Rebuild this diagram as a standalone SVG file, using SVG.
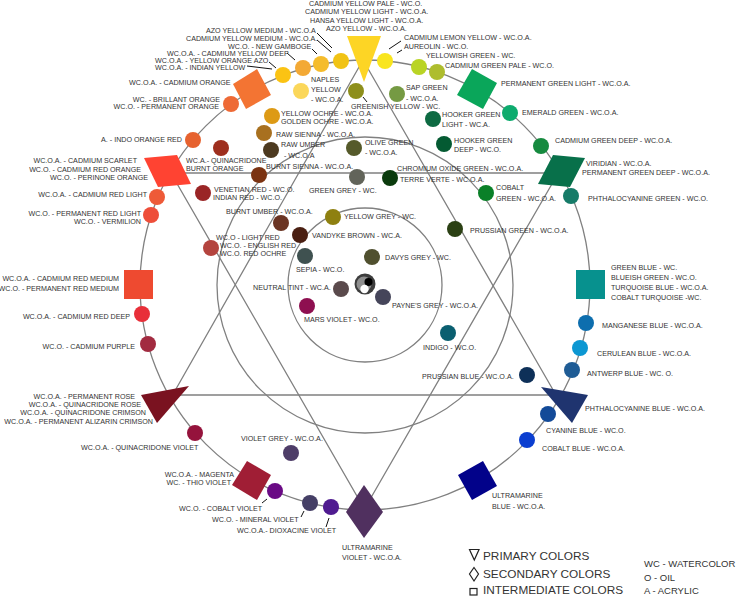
<svg xmlns="http://www.w3.org/2000/svg" width="736" height="596" viewBox="0 0 736 596">
<style>
text{font-family:"Liberation Sans",Arial,sans-serif;font-size:7.15px;fill:#333}
.c{fill:none;stroke:#808080;stroke-width:1.3}
.t{fill:none;stroke:#111;stroke-width:1}
.e{text-anchor:end}
.k{font-size:11.8px}
.w{font-size:9.5px}
.o{fill:none;stroke:#222;stroke-width:1.2}
</style>
<rect width="736" height="596" fill="#fff"/>
<g id="connectors">
<circle class="c" cx="365" cy="285" r="225"/>
<circle class="c" cx="365" cy="285" r="148"/>
<circle class="c" cx="365" cy="285" r="77"/>
<path class="c" d="M363 60L172 396M363 60L556 395M165 395H565"/>
<path class="c" d="M168 173H565M168 168L365 510M560 170L365 508"/>
<path class="t" d="M317 33L332 48M317 40L331 52M312 49L317 54M287 53L295 60M269 62L276 68M247 66L272 69M389 49L401 41M397 53L402 50M363 97L367 102M262 503L267 499M301 517L304 511M326 527L329 518"/>
</g>
<g id="n-yellow-primary"><polygon points="347,36 381,36 364,82" fill="#fdd525"/><text x="309" y="6">CADMIUM  YELLOW PALE - WC.O.</text><text x="305" y="14">CADMIUM YELLOW LIGHT - WC.O.A.</text><text x="310" y="23">HANSA YELLOW LIGHT - WC.O.A.</text><text x="326" y="31">AZO YELLOW - WC.O.A.</text></g>
<g id="n-azo-medium"><circle cx="341" cy="61" r="8" fill="#f1c315"/><text x="206" y="33">AZO YELLOW MEDIUM - WC.O.A</text><text x="186" y="41">CADMIUM YELLOW MEDIUM - WC.O.A.</text></g>
<g id="n-gamboge"><circle cx="321" cy="64" r="8" fill="#f5bc2c"/><text x="228" y="49">WC.O. - NEW GAMBOGE</text></g>
<g id="n-yellow-deep"><circle cx="303" cy="68" r="8" fill="#f3a935"/><text x="167" y="56">WC.O.A. - CADMIUM YELLOW DEEP</text></g>
<g id="n-indian-yellow"><circle cx="283" cy="75" r="8" fill="#fbc313"/><text x="155" y="63">WC.O.A. - YELLOW ORANGE AZO</text><text x="155" y="70">WC.O.A. - INDIAN YELLOW</text></g>
<g id="n-cadmium-orange"><polygon points="233,84 257,69 271,95 246,109" fill="#f37433"/><text x="129" y="85">WC.O.A. - CADMIUM ORANGE</text></g>
<g id="n-brilliant-orange"><circle cx="231" cy="104" r="8" fill="#ee6a36"/><text x="220" y="102" class="e">WC. - BRILLANT ORANGE</text><text x="219" y="109" class="e">WC.O. - PERMANENT ORANGE</text></g>
<g id="n-indo-orange"><circle cx="193" cy="140" r="8" fill="#e6622f"/><text x="182" y="142" class="e">A. - INDO ORANGE RED</text></g>
<g id="n-naples"><circle cx="301" cy="91" r="8" fill="#fbd75a"/><text x="311" y="82">NAPLES</text><text x="311" y="92">YELLOW</text><text x="311" y="102">- WC.O.A.</text></g>
<g id="n-greenish-yellow"><circle cx="356" cy="91" r="8" fill="#8e8f1b"/><text x="351" y="109">GREENISH YELLOW - WC.</text></g>
<g id="n-yellow-ochre"><circle cx="272" cy="116" r="8" fill="#dd9a15"/><text x="281" y="116">YELLOW OCHRE - WC.O.A.</text><text x="281" y="124">GOLDEN OCHRE - WC.O.A.</text></g>
<g id="n-raw-sienna"><circle cx="264" cy="133" r="8" fill="#a8701f"/><text x="276" y="137">RAW SIENNA - WC.O.A.</text></g>
<g id="n-raw-umber"><circle cx="271" cy="150" r="8" fill="#4d3a20"/><text x="281" y="147">RAW UMBER</text><text x="284" y="158">- WC.O.A</text></g>
<g id="n-quinacridone"><circle cx="221" cy="148" r="8" fill="#9e2f1e"/><text x="186" y="163">WC.A.- QUINACRIDONE</text></g>
<g id="n-burnt-sienna"><circle cx="259" cy="175" r="8" fill="#7b3312"/><text x="186" y="171">BURNT ORANGE</text><text x="266" y="169">BURNT SIENNA - WC.O.A.</text></g>
<g id="n-olive-green"><circle cx="354" cy="148" r="8" fill="#555a2a"/><text x="365" y="145">OLIVE GREEN</text><text x="365" y="155">- WC.O.A.</text></g>
<g id="n-green-grey"><circle cx="357" cy="177" r="8" fill="#62645a"/><text x="309" y="193">GREEN GREY - WC.</text></g>
<g id="n-terre-verte"><circle cx="390" cy="178" r="8" fill="#0b3b0d"/><text x="397" y="171">CHROMIUM OXIDE GREEN - WC.O.A.</text><text x="400" y="182">TERRE VERTE - WC.O.A.</text></g>
<g id="n-venetian-red"><circle cx="203" cy="193" r="8" fill="#9a2526"/><text x="214" y="192">VENETIAN RED - WC.O.</text><text x="213" y="200">INDIAN RED - WC.O.</text></g>
<g id="n-burnt-umber"><circle cx="281" cy="223" r="8" fill="#6a3423"/><text x="226" y="214">BURNT UMBER - WC.O.A.</text></g>
<g id="n-yellow-grey"><circle cx="333" cy="217" r="8" fill="#8e8010"/><text x="344" y="219">YELLOW GREY - WC.</text></g>
<g id="n-vandyke"><circle cx="300" cy="235" r="8" fill="#4a1f12"/><text x="312" y="238">VANDYKE BROWN - WC.A.</text></g>
<g id="n-light-red"><circle cx="211" cy="248" r="8" fill="#b4443e"/><text x="216" y="240">WC.O - LIGHT RED</text><text x="220" y="248">WC.O. - ENGLISH RED</text><text x="220" y="256">WC.O. RED OCHRE</text></g>
<g id="n-sepia"><circle cx="305" cy="256" r="8" fill="#3f5150"/><text x="296" y="272">SEPIA - WC.O.</text></g>
<g id="n-davys"><circle cx="372" cy="257" r="8" fill="#50502f"/><text x="385" y="260">DAVYS GREY - WC.</text></g>
<g id="n-neutral"><circle cx="341" cy="289" r="8" fill="#5a4a4c"/><text x="253" y="290">NEUTRAL TINT - WC.A.</text></g>
<g id="n-center"><circle cx="365" cy="284" r="10.5" fill="#3d3d3d"/><circle cx="364" cy="284" r="7.5" fill="#8f8f8f"/><circle cx="368.500" cy="282" r="4" fill="#000"/><circle cx="364.500" cy="289" r="4.200" fill="#fff"/></g>
<g id="n-payne"><circle cx="383" cy="297" r="8" fill="#45455a"/><text x="392" y="308">PAYNE'S GREY - WC.O.A.</text></g>
<g id="n-mars"><circle cx="307" cy="306" r="8" fill="#8e0f50"/><text x="304" y="322">MARS VIOLET - WC.O.</text></g>
<g id="n-cad-lemon"><circle cx="385" cy="61" r="8" fill="#f9e51e"/><text x="404" y="40">CADMIUM LEMON YELLOW - WC.O.A.</text><text x="404" y="49">AUREOLIN - WC.O.</text></g>
<g id="n-yellowish"><circle cx="419" cy="67" r="8" fill="#b9d425"/><text x="426" y="58">YELLOWISH GREEN - WC.</text></g>
<g id="n-green-pale"><circle cx="437" cy="72" r="8" fill="#aebd2e"/><text x="445" y="68">CADMIUM GREEN PALE - WC.O.</text></g>
<g id="n-perm-green-light"><polygon points="472,69 497,83 483,109 457,95" fill="#0aa65a"/><text x="501" y="86">PERMANENT GREEN LIGHT - WC.O.A.</text></g>
<g id="n-emerald"><circle cx="510" cy="113" r="8" fill="#0dab6e"/><text x="522" y="115">EMERALD GREEN - WC.O.A.</text></g>
<g id="n-green-deep"><circle cx="541" cy="146" r="8" fill="#168a3f"/><text x="555" y="143">CADMIUM GREEN DEEP - WC.O.A.</text></g>
<g id="n-sap"><circle cx="397" cy="94" r="8" fill="#759a43"/><text x="406" y="90">SAP GREEN</text><text x="406" y="101">- WC.O.A.</text></g>
<g id="n-hooker-light"><circle cx="433" cy="119" r="8" fill="#0d6a42"/><text x="442" y="117">HOOKER GREEN</text><text x="442" y="127">LIGHT - WC.A.</text></g>
<g id="n-hooker-deep"><circle cx="444" cy="144" r="8" fill="#045a32"/><text x="454" y="143">HOOKER GREEN</text><text x="454" y="152">DEEP - WC.O.</text></g>
<g id="n-viridian"><polygon points="553,155 585,158 570,187 538,184" fill="#08704a"/><text x="586" y="166">VIRIDIAN - WC.O.A.</text><text x="582" y="175">PERMANENT GREEN DEEP - WC.O.A.</text></g>
<g id="n-phthalo-green"><circle cx="571" cy="196" r="8" fill="#167b68"/><text x="588" y="201">PHTHALOCYANINE GREEN - WC.O.</text></g>
<g id="n-cobalt-green"><circle cx="486" cy="193" r="8" fill="#0a8028"/><text x="496" y="190">COBALT</text><text x="496" y="201">GREEN - WC.O.A.</text></g>
<g id="n-prussian-green"><circle cx="455" cy="229" r="8" fill="#2b4014"/><text x="470" y="233">PRUSSIAN GREEN - WC.O.A.</text></g>
<g id="n-turquoise"><rect x="576" y="270" width="29" height="29" fill="#07918e"/><text x="611" y="270">GREEN BLUE - WC.</text><text x="611" y="280">BLUEISH GREEN - WC.O.</text><text x="611" y="290">TURQUOISE BLUE - WC.O.A.</text><text x="611" y="300">COBALT TURQUOISE -WC.</text></g>
<g id="n-manganese"><circle cx="586" cy="323" r="8" fill="#0d6eae"/><text x="602" y="328">MANGANESE BLUE - WC.O.A.</text></g>
<g id="n-cerulean"><circle cx="580" cy="348" r="8" fill="#0c97d2"/><text x="597" y="356">CERULEAN BLUE - WC.O.A.</text></g>
<g id="n-antwerp"><circle cx="572" cy="370" r="8" fill="#1f5c95"/><text x="587" y="376">ANTWERP BLUE - WC. O.</text></g>
<g id="n-indigo"><circle cx="448" cy="333" r="8" fill="#0a5f70"/><text x="423" y="350">INDIGO - WC.O.</text></g>
<g id="n-prussian-blue"><circle cx="527" cy="375" r="8" fill="#0e3058"/><text x="422" y="379">PRUSSIAN BLUE - WC.O.A.</text></g>
<g id="n-blue-primary"><polygon points="541,387 588,395 572,423" fill="#1f346f"/><text x="585" y="411">PHTHALOCYANINE BLUE - WC.O.A.</text></g>
<g id="n-cyanine"><circle cx="548" cy="414" r="8" fill="#134a98"/><text x="546" y="433">CYANINE BLUE - WC.O.</text></g>
<g id="n-cobalt-blue"><circle cx="527" cy="440" r="8" fill="#0b3ed0"/><text x="542" y="451">COBALT BLUE - WC.O.A.</text></g>
<g id="n-ultramarine-blue"><polygon points="483,461 497,486 472,500 458,475" fill="#02028a"/><text x="492" y="498">ULTRAMARINE</text><text x="492" y="509">BLUE - WC.O.A.</text></g>
<g id="n-violet-secondary"><polygon points="364,485 383,512 364,538 346,512" fill="#50305f"/><text x="342" y="550">ULTRAMARINE</text><text x="342" y="560">VIOLET - WC.O.A.</text></g>
<g id="n-dioxazine"><circle cx="331" cy="507" r="8" fill="#4f1b90"/><text x="237" y="533">WC.O.A.- DIOXACINE VIOLET</text></g>
<g id="n-mineral"><circle cx="310" cy="503" r="8" fill="#453f66"/><text x="212" y="522">WC.O. - MINERAL VIOLET</text></g>
<g id="n-cobalt-violet"><circle cx="275" cy="491" r="8" fill="#6a0a85"/><text x="179" y="511">WC.O. - COBALT VIOLET</text></g>
<g id="n-magenta"><polygon points="247,461 271,475 257,500 232,485" fill="#a01e35"/><text x="234" y="477" class="e">WC.O.A. - MAGENTA</text><text x="231" y="485" class="e">WC. - THIO VIOLET</text></g>
<g id="n-violet-grey"><circle cx="291" cy="453" r="8" fill="#4e3d68"/><text x="241" y="441">VIOLET GREY - WC.O.A.</text></g>
<g id="n-quin-violet"><circle cx="195" cy="433" r="8" fill="#95133c"/><text x="81" y="450">WC.O.A. - QUINACRIDONE VIOLET</text></g>
<g id="n-red-primary"><polygon points="141,395 189,386 157,423" fill="#7a1220"/><text x="135" y="399" class="e">WC.O.A. - PERMANENT ROSE</text><text x="141" y="407" class="e">WC.O.A. - QUINACRIDONE ROSE</text><text x="146" y="415" class="e">WC.O.A. - QUINACRIDONE CRIMSON</text><text x="153" y="424" class="e">WC.O.A. - PERMANENT ALIZARIN CRIMSON</text></g>
<g id="n-cad-purple"><circle cx="148" cy="344" r="8" fill="#a22b40"/><text x="135" y="349" class="e">WC.O. - CADMIUM PURPLE</text></g>
<g id="n-red-deep"><circle cx="142" cy="314" r="8" fill="#e82f39"/><text x="130" y="319" class="e">WC.O.A. - CADMIUM RED DEEP</text></g>
<g id="n-red-medium"><rect x="124" y="270" width="29" height="29" fill="#ee4a30"/><text x="119" y="281" class="e">WC.O.A. - CADMIUM RED MEDIUM</text><text x="119" y="291" class="e">WC.O. - PERMANENT RED MEDIUM</text></g>
<g id="n-perm-red-light"><circle cx="151" cy="215" r="8" fill="#ee4e3a"/><text x="141" y="216" class="e">WC.O. - PERMANENT RED LIGHT</text><text x="141" y="224" class="e">WC.O. - VERMILION</text></g>
<g id="n-red-light"><circle cx="157" cy="197" r="8" fill="#ee5a38"/><text x="147" y="197" class="e">WC.O.A. - CADMIUM RED LIGHT</text></g>
<g id="n-scarlet"><polygon points="144,158 177,155 191,184 158,187" fill="#ff4332"/><text x="137" y="163" class="e">WC.O.A. - CADMIUM SCARLET</text><text x="141" y="172" class="e">WC.O. - CADMIUM RED ORANGE</text><text x="148" y="180" class="e">WC.O. - PERINONE ORANGE</text></g>
<g id="legend">
<polygon class="o" points="469.500,549.500 479,549.500 474.300,560"/><polygon class="o" points="474,567.500 478.500,574 474,581 469.500,574"/><rect class="o" x="470" y="588.500" width="7" height="6.500"/>
<text x="483" y="560" class="k">PRIMARY COLORS</text><text x="483" y="578" class="k">SECONDARY COLORS</text><text x="483" y="594" class="k">INTERMEDIATE COLORS</text>
<text x="644" y="567" class="w">WC - WATERCOLOR</text><text x="644" y="581" class="w">O - OIL</text><text x="644" y="594" class="w">A - ACRYLIC</text>
</g>
</svg>
